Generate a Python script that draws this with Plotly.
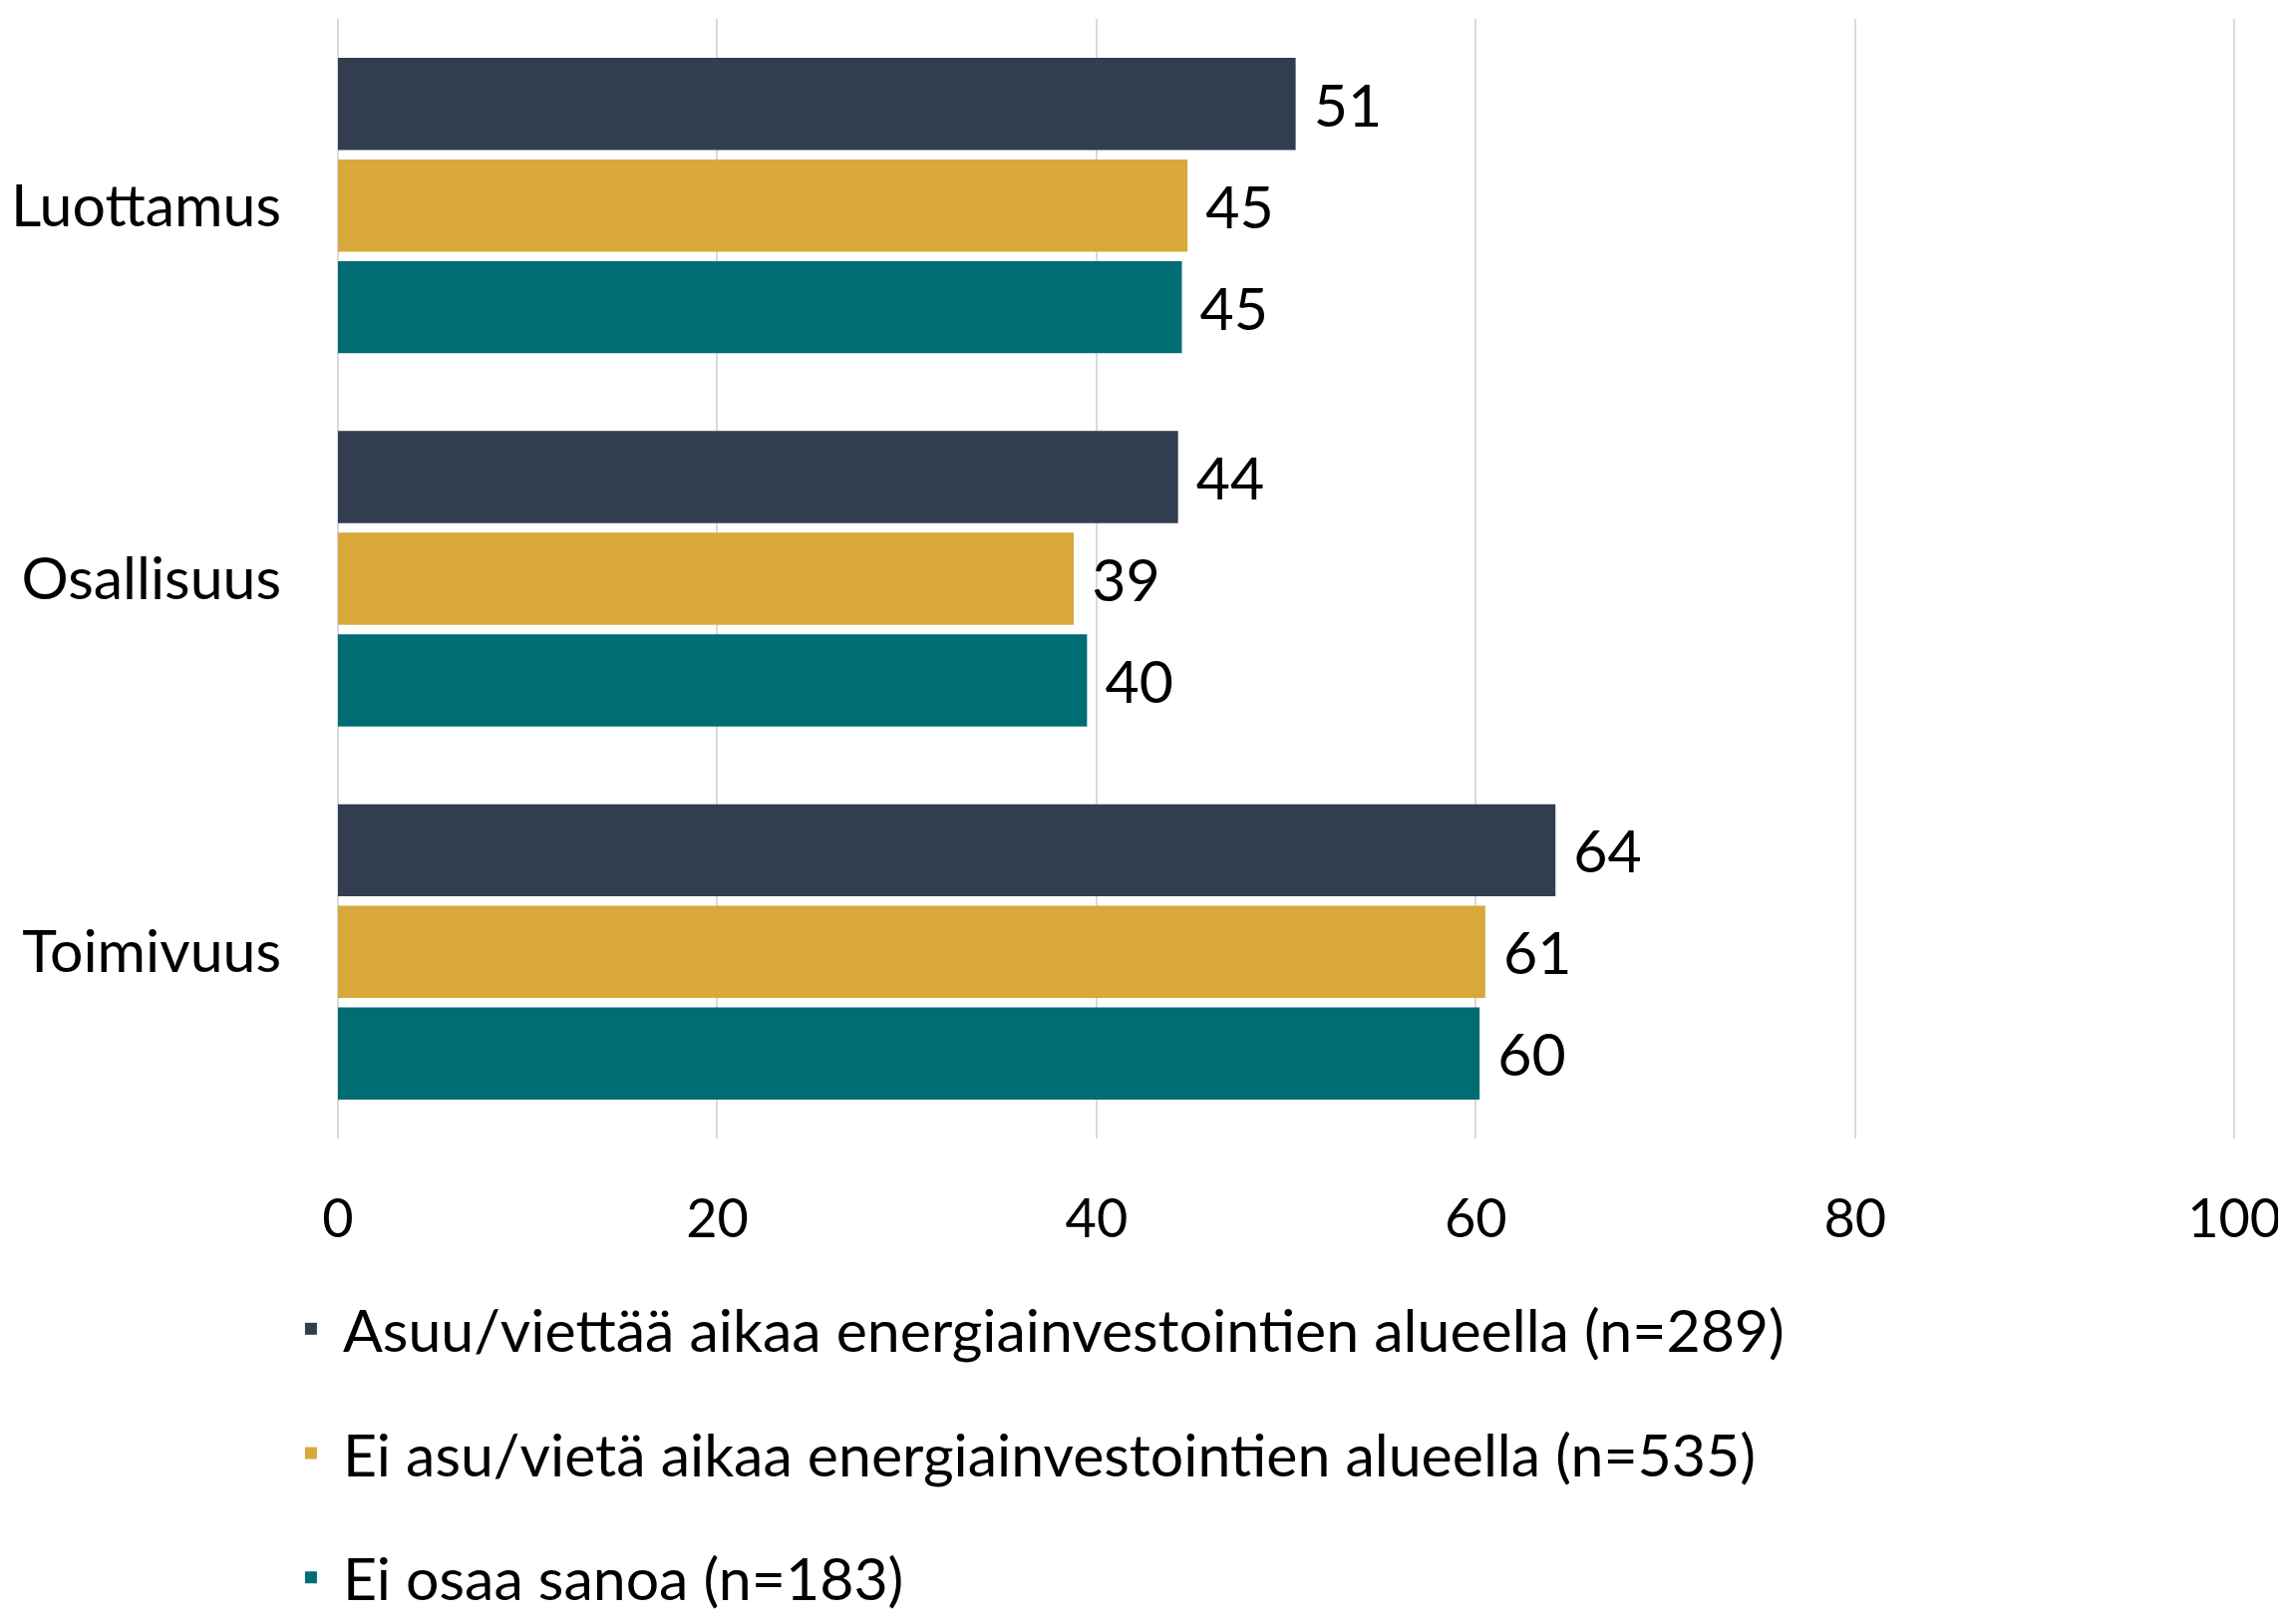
import plotly.graph_objects as go

categories = ["Luottamus", "Osallisuus", "Toimivuus"]
series_names = [
    "Asuu/viettää aikaa energiainvestointien alueella (n=289)",
    "Ei asu/vietä aikaa energiainvestointien alueella (n=535)",
    "Ei osaa sanoa (n=183)",
]
asuu_values = [50.5, 44.3, 64.2]
ei_asu_values = [44.8, 38.8, 60.5]
eos_values = [44.5, 39.5, 60.2]
colors = ["#323E4F", "#D8A83B", "#006D75"]
x_ticks = [0, 20, 40, 60, 80, 100]

FONT = "Lato"
FS = 59

fig = go.Figure()
for i, (name, vals) in enumerate(zip(series_names, [asuu_values, ei_asu_values, eos_values])):
    fig.add_trace(go.Bar(
        y=categories, x=vals, name=name, orientation="h",
        marker=dict(color=colors[i], line=dict(width=0)),
        texttemplate="\u00a0%{x:.0f}", textposition="outside",
        textfont=dict(family=FONT, size=FS, color="black"),
        cliponaxis=False, legendgroup=f"g{i}",
    ))

fig.update_layout(
    width=2285, height=1632,
    margin=dict(l=331, r=48, t=11, b=498),
    paper_bgcolor="white", plot_bgcolor="white",
    barmode="group", bargap=0.183, bargroupgap=0.093,
    font=dict(family=FONT, size=FS, color="black"),
    showlegend=True,
    legend=dict(
        orientation="v", x=-0.031, xanchor="left", y=-0.13, yanchor="top",
        font=dict(family=FONT, size=FS, color="black"),
        tracegroupgap=45, traceorder="grouped", itemwidth=54,
        bgcolor="rgba(0,0,0,0)",
    ),
)
fig.update_xaxes(
    range=[0, 100.2], tickvals=x_ticks, showgrid=True, gridcolor="#D9D9D9", gridwidth=2,
    zeroline=True, zerolinecolor="#D9D9D9", zerolinewidth=2, showline=False,
    ticks="", ticklabelstandoff=44, ticklabeloverflow="allow", automargin=False,
    tickfont=dict(family=FONT, size=54, color="black"),
)
fig.update_yaxes(
    autorange="reversed", showgrid=False, showline=False, ticks="", automargin=False,
    ticklabelstandoff=56, tickfont=dict(family=FONT, size=FS, color="black"),
)
fig.write_html("out.html")
